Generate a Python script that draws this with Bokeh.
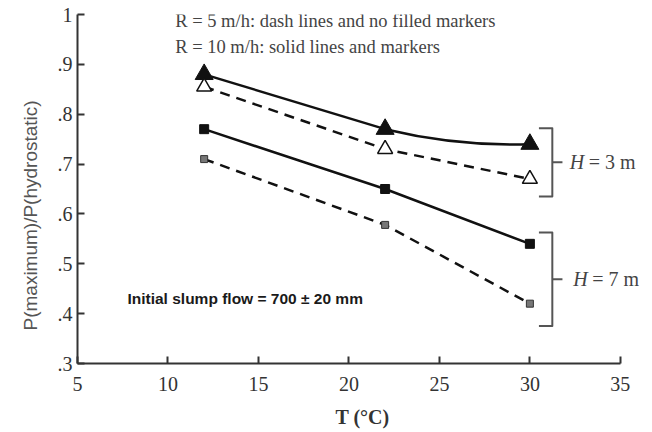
from bokeh.plotting import figure
from bokeh.models import Range1d, FixedTicker, CustomJSTickFormatter, Label, Title
from bokeh.embed import file_html
from bokeh.resources import INLINE

# ---- data ----
T = [12, 22, 30]
r10_h3 = [0.88, 0.77, 0.74]   # filled triangles, solid
r5_h3 = [0.855, 0.73, 0.67]   # open triangles, dashed
r10_h7 = [0.77, 0.65, 0.54]   # filled squares, solid
r5_h7 = [0.71, 0.578, 0.42]   # small squares, dashed
x_ticks = [5, 10, 15, 20, 25, 30, 35]
y_ticks = [0.3, 0.4, 0.5, 0.6, 0.7, 0.8, 0.9, 1.0]

INK = "#111111"
GREY = "#444444"
SERIF = "Liberation Serif"
SANS = "Liberation Sans"

p = figure(width=650, height=430, output_backend="svg", toolbar_location=None,
           x_range=Range1d(5, 36.5), y_range=Range1d(0.3, 1.0),
           min_border_left=77, min_border_right=3, min_border_top=14, min_border_bottom=65)
p.outline_line_color = None
p.grid.visible = False
p.background_fill_color = "white"

for ax in (p.xaxis[0], p.yaxis[0]):
    ax.axis_line_color = "#333333"
    ax.axis_line_width = 2
    ax.major_tick_line_color = "#333333"
    ax.major_tick_line_width = 2
    ax.major_tick_in = 7
    ax.major_tick_out = 0
    ax.minor_tick_line_color = None
    ax.major_label_text_font = SERIF
    ax.major_label_text_font_size = "20px"
    ax.major_label_text_color = "#333333"

p.xaxis.bounds = (5, 35)
p.xaxis.ticker = FixedTicker(ticks=x_ticks)
p.yaxis.ticker = FixedTicker(ticks=y_ticks)
p.xaxis.major_label_standoff = 13
p.yaxis.major_label_standoff = 5
p.yaxis.formatter = CustomJSTickFormatter(
    code="return tick >= 0.999 ? '1' : tick.toFixed(1).replace(/^0/, '');")

p.xaxis.axis_label = "T (\u00b0C)"
p.xaxis.axis_label_text_font = SERIF
p.xaxis.axis_label_text_font_style = "bold"
p.xaxis.axis_label_text_font_size = "20px"
p.xaxis.axis_label_text_color = "#333333"
p.xaxis.axis_label_standoff = 12

p.add_layout(Title(text="P(maximum)/P(hydrostatic)", align="left", offset=33, standoff=27,
                   text_font=SANS, text_font_style="normal", text_font_size="19px",
                   text_color="#555555"), "left")

# ---- series ----
# R = 10, H = 3 : solid, filled triangles (second segment drawn as a smooth curve)
p.line(T[:2], r10_h3[:2], line_color=INK, line_width=2.5)
p.quadratic(x0=[T[1]], y0=[r10_h3[1]], x1=[T[2]], y1=[r10_h3[2]],
            cx=[(T[1] + T[2]) / 2], cy=[r10_h3[2] - 0.005],
            line_color=INK, line_width=2.5)
p.scatter(T, r10_h3, marker="triangle", size=18, fill_color=INK, line_color=INK)

# R = 5, H = 3 : dashed, open triangles
p.line(T, r5_h3, line_color=INK, line_width=2.5, line_dash="10 7")
p.scatter(T, r5_h3, marker="triangle", size=15, fill_color="white",
          line_color=INK, line_width=1.5)

# R = 10, H = 7 : solid, filled squares
p.line(T, r10_h7, line_color=INK, line_width=2.5)
p.scatter(T, r10_h7, marker="square", size=9, fill_color=INK, line_color=INK)

# R = 5, H = 7 : dashed, small squares
p.line(T, r5_h7, line_color=INK, line_width=2.5, line_dash="10 7")
p.scatter(T, r5_h7, marker="square", size=7, fill_color="#777777",
          line_color="#333333", line_width=1)

# ---- brackets ----
def bracket(top, bottom):
    xs = [30.5, 31.24, 31.24, 30.5]
    ys = [top, top, bottom, bottom]
    p.line(xs, ys, line_color="#555555", line_width=2, line_join="round")
    mid = (top + bottom) / 2
    p.line([31.24, 31.8], [mid, mid], line_color="#555555", line_width=2)
    return mid

m3 = bracket(0.772, 0.635)
m7 = bracket(0.563, 0.375)

for ymid, txt, x0 in ((m3, "= 3 m", 32.2), (m7, "= 7 m", 32.4)):
    p.add_layout(Label(x=x0, y=ymid, text="H", text_font=SERIF, text_font_style="italic",
                       text_font_size="20px", text_color=GREY, text_baseline="middle"))
    p.add_layout(Label(x=x0, y=ymid, x_offset=19, text=txt, text_font=SERIF,
                       text_font_size="20px", text_color=GREY, text_baseline="middle"))

# ---- annotations ----
p.add_layout(Label(x=10.4, y=0.987, text="R = 5 m/h: dash lines and no filled markers",
                   text_font=SERIF, text_font_size="18.5px", text_color=GREY,
                   text_baseline="alphabetic"))
p.add_layout(Label(x=10.4, y=0.935, text="R = 10 m/h: solid lines and markers",
                   text_font=SERIF, text_font_size="18.5px", text_color=GREY,
                   text_baseline="alphabetic"))
p.add_layout(Label(x=7.76, y=0.43, text="Initial slump flow = 700 \u00b1 20 mm",
                   text_font=SANS, text_font_style="bold", text_font_size="15.5px",
                   text_color="#1a1a1a", text_baseline="alphabetic"))

open("out.html", "w").write(file_html(p, INLINE))
